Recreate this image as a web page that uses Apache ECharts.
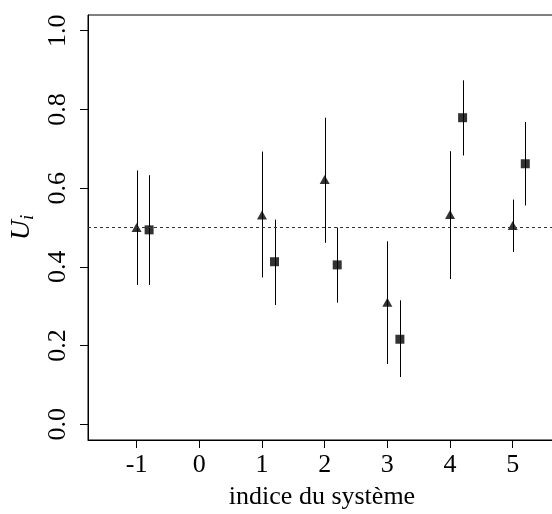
<!DOCTYPE html>
<html><head><meta charset="utf-8">
<script src="https://cdn.jsdelivr.net/npm/echarts@6/dist/echarts.min.js"></script>
<style>html,body{margin:0;padding:0;background:#fff}#c{width:552px;height:514px}</style>
</head><body><div id="c"></div>
<script>
// Data
const triX = [-1, 1, 2, 3, 4, 5];
const triY = [0.500, 0.532, 0.622, 0.310, 0.533, 0.505];
const triLo = [0.354, 0.373, 0.461, 0.153, 0.369, 0.438];
const triHi = [0.645, 0.693, 0.779, 0.465, 0.694, 0.571];
const sqX = [-0.8, 1.2, 2.2, 3.2, 4.2, 5.2];
const sqY = [0.494, 0.413, 0.405, 0.216, 0.779, 0.662];
const sqLo = [0.354, 0.303, 0.309, 0.120, 0.683, 0.556];
const sqHi = [0.633, 0.520, 0.500, 0.315, 0.874, 0.768];
const xTicks = [-1, 0, 1, 2, 3, 4, 5];
const yTicks = [0.0, 0.2, 0.4, 0.6, 0.8, 1.0];
const refLine = 0.5;

const font = 'Liberation Serif';
const errData = [];
triX.forEach((x, i) => errData.push([x, triLo[i], triHi[i]]));
sqX.forEach((x, i) => errData.push([x, sqLo[i], sqHi[i]]));

const chart = echarts.init(document.getElementById('c'), null, {renderer: 'canvas'});
chart.setOption({
  animation: false,
  grid: {left: 88, top: 15, right: -4, bottom: 74, outerBoundsMode: 'none', containLabel: false,
         show: true, borderColor: '#000', borderWidth: 1, backgroundColor: 'transparent'},
  xAxis: {
    type: 'value', min: -1.775, max: 5.69,
    name: 'indice du système', nameLocation: 'middle', nameGap: 44,
    nameTextStyle: {fontFamily: font, fontSize: 26, color: '#000'},
    axisLine: {show: true, onZero: false, lineStyle: {color: '#000', width: 1}},
    splitLine: {show: false},
    axisTick: {show: true, length: 8, lineStyle: {color: '#000'}, customValues: xTicks},
    axisLabel: {fontFamily: font, fontSize: 26, color: '#000', margin: 12, customValues: xTicks, formatter: v => String(v)}
  },
  yAxis: {
    type: 'value', min: -0.04, max: 1.04,
    name: '{a|U}{b|i}', nameLocation: 'middle', nameGap: 50, nameRotate: 90,
    nameTextStyle: {rich: {
      a: {fontFamily: font, fontStyle: 'italic', fontSize: 28, color: '#000'},
      b: {fontFamily: font, fontStyle: 'italic', fontSize: 19, color: '#000', padding: [12, 0, 0, 0]}
    }},
    axisLine: {show: true, onZero: false, lineStyle: {color: '#000', width: 1}},
    splitLine: {show: false},
    axisTick: {show: true, length: 8, lineStyle: {color: '#000'}, customValues: yTicks},
    axisLabel: {fontFamily: font, fontSize: 26, color: '#000', rotate: 90, margin: 17, customValues: yTicks, formatter: v => v.toFixed(1)}
  },
  series: [
    {
      type: 'custom',
      data: errData,
      renderItem: function (params, api) {
        const x = api.value(0);
        const p1 = api.coord([x, api.value(1)]);
        const p2 = api.coord([x, api.value(2)]);
        return {type: 'line', shape: {x1: Math.round(p1[0]) + 0.5, y1: p1[1], x2: Math.round(p2[0]) + 0.5, y2: p2[1]}, style: {stroke: '#000', lineWidth: 1}};
      },
      z: 1,
      markLine: {
        silent: true, symbol: 'none', label: {show: false},
        lineStyle: {color: '#333', type: [3, 3], width: 1},
        data: [{yAxis: refLine}]
      }
    },
    {
      type: 'scatter', symbol: 'triangle', symbolSize: [10, 9],
      itemStyle: {color: '#000'},
      data: triX.map((x, i) => [x, triY[i]]), z: 3
    },
    {
      type: 'scatter', symbol: 'rect', symbolSize: 9,
      itemStyle: {color: '#000'},
      data: sqX.map((x, i) => [x, sqY[i]]), z: 3
    }
  ]
});
</script></body></html>
